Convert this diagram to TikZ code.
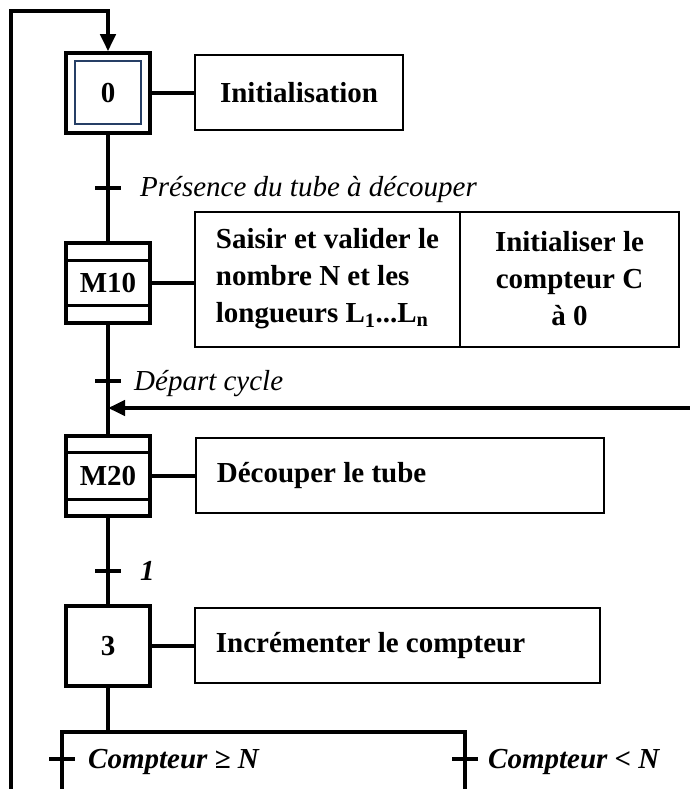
\documentclass[tikz,border=0pt]{standalone}
\usepackage{fontspec}
\setmainfont{Liberation Serif}
\usetikzlibrary{arrows.meta}
\definecolor{innerblue}{HTML}{263F66}
\begin{document}
\begin{tikzpicture}[x=1pt,y=-1pt,
  every node/.style={font=\fontsize{29}{37}\selectfont},
  flow/.style={line width=4pt},
  arr/.style={-{Triangle[length=17pt,width=15pt]}},
  stepbox/.style={draw, line width=3.5pt, minimum width=84pt, minimum height=80pt, inner sep=0pt, font=\fontsize{29}{37}\selectfont\bfseries},
  actbox/.style={draw, line width=2.6pt, inner sep=0pt},
  acttext/.style={anchor=west, inner sep=0pt, align=left, font=\fontsize{29}{37}\selectfont\bfseries},
  acttextc/.style={inner sep=0pt, align=center, font=\fontsize{29}{37}\selectfont\bfseries},
  steprule/.style={line width=3pt},
  trtick/.style={line width=3.5pt},
  cond/.style={anchor=base west, inner sep=0pt, font=\fontsize{29}{37}\selectfont\itshape},
  condb/.style={anchor=base west, inner sep=0pt, font=\fontsize{29}{37}\selectfont\bfseries\itshape}
]
\useasboundingbox (0,0) rectangle (689,789);

% step 0
\node[stepbox] (s0) at (108,93) {0};
\node[draw=innerblue, line width=2pt, minimum width=66pt, minimum height=63pt, inner sep=0pt] (s0i) at (s0.center) {};
\node[actbox, minimum width=208pt, minimum height=75pt, font=\fontsize{29}{37}\selectfont\bfseries] (a0) at (299,92.5) {Initialisation};
\draw[flow] (s0.east) -- (s0.east -| a0.west);

% transition 1
\coordinate (t1) at (108,188);
\node[cond] (c1) at (140,196) {Présence du tube à découper};

% step M10
\node[stepbox] (s1) at (108,283) {M10};
\draw[steprule] ([yshift=-19pt]s1.north west) -- ([yshift=-19pt]s1.north east);
\draw[steprule] ([yshift=19pt]s1.south west) -- ([yshift=19pt]s1.south east);
\node[actbox, minimum width=265pt, minimum height=135pt] (a1) at (327.5,279.5) {};
\node[acttext] (a1t) at ([xshift=22pt,yshift=1pt]a1.west) {Saisir et valider le\\ nombre N et les\\ longueurs L\textsubscript{1}...L\textsubscript{n}};
\node[actbox, minimum width=219pt, minimum height=135pt] (a1b) at (569.5,279.5) {};
\node[acttextc] (a1bt) at ([yshift=1pt]a1b.center) {Initialiser le\\ compteur C\\ à 0};
\draw[flow] (s1.east) -- (s1.east -| a1.west);

\draw[flow] (s0.south) -- (s1.north);
\draw[trtick] ([xshift=-13pt]t1) -- ([xshift=13pt]t1);

% transition 2
\coordinate (t2) at (108,381);
\node[cond] (c2) at (134,390) {Départ cycle};
\coordinate (m) at (108,408);
\coordinate (mr) at (690,408);

% step M20
\node[stepbox] (s2) at (108,476) {M20};
\draw[steprule] ([yshift=-18pt]s2.north west) -- ([yshift=-18pt]s2.north east);
\draw[steprule] ([yshift=18pt]s2.south west) -- ([yshift=18pt]s2.south east);
\node[actbox, minimum width=408pt, minimum height=75pt] (a2) at (400,475.5) {};
\node[acttext] (a2t) at ([xshift=22pt]a2.west) {Découper le tube};
\draw[flow] (s2.east) -- (s2.east -| a2.west);

\draw[flow] (s1.south) -- (s2.north);
\draw[trtick] ([xshift=-13pt]t2) -- ([xshift=13pt]t2);
\draw[flow, arr] (mr) -- (m);

% transition 3
\coordinate (t3) at (108,571);
\node[condb] (c3) at (140,580) {1};

% step 3
\node[stepbox] (s3) at (108,646) {3};
\node[actbox, minimum width=405pt, minimum height=75pt] (a3) at (397.5,645.5) {};
\node[acttext] (a3t) at ([xshift=22pt]a3.west) {Incrémenter le compteur};
\draw[flow] (s3.east) -- (s3.east -| a3.west);

\draw[flow] (s2.south) -- (s3.north);
\draw[trtick] ([xshift=-13pt]t3) -- ([xshift=13pt]t3);

% divergence
\coordinate (d) at (108,732);
\coordinate (dl) at (62,732);
\coordinate (dr) at (465,732);
\coordinate (bl) at (62,792);
\coordinate (br) at (465,792);
\coordinate (t4) at (62,759);
\coordinate (t5) at (465,759);
\draw[flow] (s3.south) -- (d);
\draw[flow] (bl) -- (dl) -- (dr) -- (br);
\draw[trtick] ([xshift=-13pt]t4) -- ([xshift=13pt]t4);
\draw[trtick] ([xshift=-13pt]t5) -- ([xshift=13pt]t5);
\node[condb] (c4) at (88,768) {Compteur ≥ N};
\node[condb] (c5) at (488,768) {Compteur < N};

% loop back
\coordinate (lb) at (11,792);
\coordinate (lt) at (11,11);
\coordinate (lt2) at (108,11);
\draw[flow, arr] (lb) -- (lt) -- (lt2) -- (s0.north);
\end{tikzpicture}
\end{document}
